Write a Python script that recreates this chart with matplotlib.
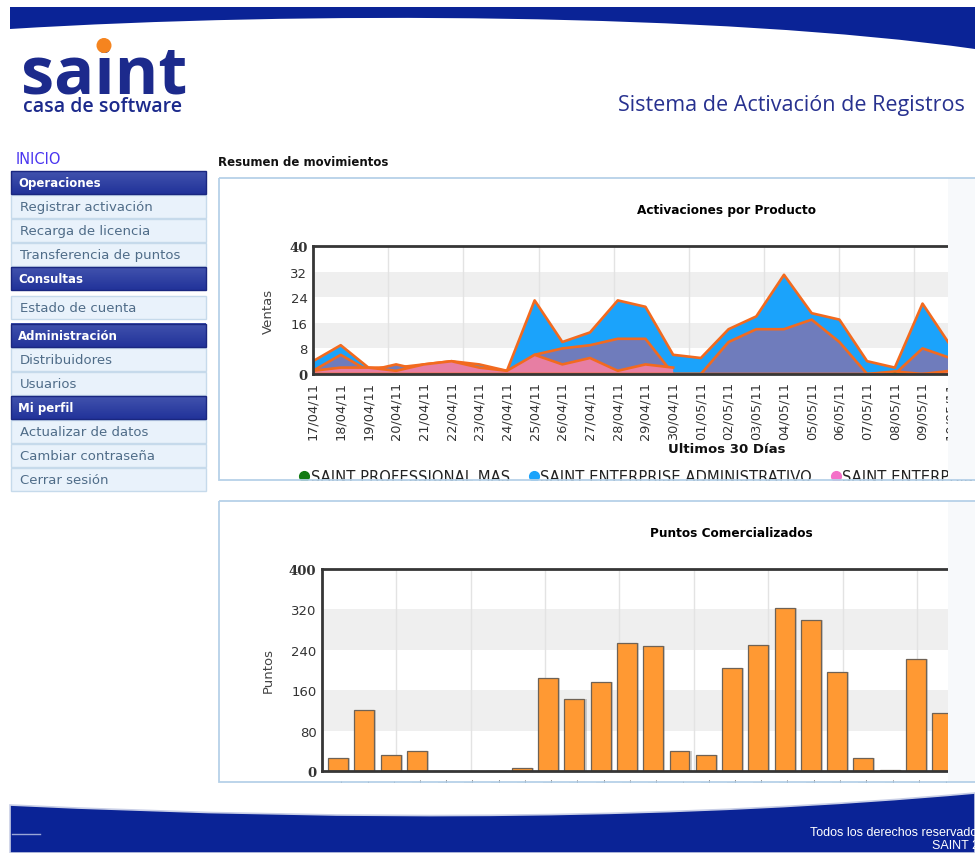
import numpy as np
import matplotlib.pyplot as plt
from matplotlib.patches import Rectangle, PathPatch, Circle
from matplotlib.path import Path
from matplotlib.lines import Line2D
from matplotlib.colors import LinearSegmentedColormap

W, H = 975, 854
NAN = np.nan

DATES = ["17/04/11", "18/04/11", "19/04/11", "20/04/11", "21/04/11", "22/04/11",
         "23/04/11", "24/04/11", "25/04/11", "26/04/11", "27/04/11", "28/04/11",
         "29/04/11", "30/04/11", "01/05/11", "02/05/11", "03/05/11", "04/05/11",
         "05/05/11", "06/05/11", "07/05/11", "08/05/11", "09/05/11", "10/05/11"]

# activaciones por dia, una lista por producto (areas superpuestas)
PROFESSIONAL_MAS = [0, 0, 0, 0, 0, 0, 0, 0, 0, 0, 0, 0,
                    0, 0, 0, 0, 0, 0, 0, 0, 0, 0.8, 0, 0]
ENTERPRISE_ADM = [4, 9, 2, 2, 3, 4, 3, 1, 23, 10, 13, 23,
                  21, 6, 5, 14, 18, 31, 19, 17, 4, 2, 22, 9]
ENTERPRISE_OTRO = [1, 6, 1, 3, 1, 1, 1, 0, 6, 8, 9, 11,
                   11, 0, 0, 10, 14, 14, 17, 10, 0, 0, 8, 5]
ENTERPRISE_CONT = [1, 2, 2, 1, 3, 4, 2, 1, 6, 3, 5, 1,
                   3, 2, NAN, NAN, NAN, NAN, NAN, NAN, NAN, NAN, 0, 1]

# puntos comercializados por dia
PUNTOS = [26, 120, 31, 40, 0, 0, 0, 6, 184, 143, 177, 254,
          248, 40, 31, 203, 250, 323, 300, 197, 26, 2, 221, 114]

LEGEND_LABELS = ["SAINT PROFESSIONAL MAS", "SAINT ENTERPRISE ADMINISTRATIVO",
                 "SAINT ENTERPRISE CONTABILIDAD"]

MENU = [("Operaciones", ["Registrar activación", "Recarga de licencia", "Transferencia de puntos"]),
        ("Consultas", ["Estado de cuenta"]),
        ("Administración", ["Distribuidores", "Usuarios"]),
        ("Mi perfil", ["Actualizar de datos", "Cambiar contraseña", "Cerrar sesión"])]

NAVY = "#1c2a8c"
ORANGE_LINE = "#f26a1f"


def px_rect(left, top, right, bottom):
    return [left / W, 1 - bottom / H, (right - left) / W, (bottom - top) / H]


def style_chart(ax, ymax, ystep, xmax):
    ax.set_xlim(*xmax)
    ax.set_ylim(0, ymax)
    yt = np.arange(0, ymax + 1, ystep)
    for lo in yt[1:-1:2]:
        ax.axhspan(lo, lo + ystep, color="#efefef", lw=0, zorder=0)
    for gx in np.linspace(xmax[0], xmax[1], 12)[1:-1]:
        ax.axvline(gx, color="#e3e3e3", lw=1, zorder=0.5)
    ax.set_yticks(yt, labels=[str(v) for v in yt])
    for lbl in ax.get_yticklabels():
        if lbl.get_text() in (str(yt[0]), str(yt[-1])):
            lbl.set_fontfamily("DejaVu Serif")
            lbl.set_fontweight("bold")
            lbl.set_color("#111111")
    for side in ["top", "left", "bottom"]:
        ax.spines[side].set(color="#363636", lw=2, zorder=10)
    ax.spines["right"].set_visible(False)
    ax.tick_params(axis="both", length=0, colors="#333333", labelsize=9.5)
    ax.tick_params(axis="y", pad=4)


fig = plt.figure(figsize=(W / 100, H / 100), dpi=100)

# ---- page background: header, menu ----
page = fig.add_axes([0, 0, 1, 1], zorder=0)
page.set_xlim(0, W)
page.set_ylim(H, 0)
page.axis("off")

head = Path([(10, 8), (975, 8), (975, 50), (720, 14), (300, 12), (10, 30), (10, 8)],
            [Path.MOVETO, Path.LINETO, Path.LINETO, Path.CURVE4, Path.CURVE4, Path.CURVE4,
             Path.CLOSEPOLY])
page.add_patch(PathPatch(head, facecolor="#0a2396", edgecolor="none"))

page.text(21, 93, "saint", fontsize=48, fontweight="bold", family="Open Sans",
          color=NAVY, va="baseline")
page.add_patch(Circle((104, 46.5), 6.8, color="#f5841f", zorder=5))
page.text(23, 112, "casa de software", fontsize=14, fontweight="semibold",
          family="Open Sans", color=NAVY, va="baseline")
page.text(618, 111, "Sistema de Activación de Registros", fontsize=15.5,
          family="Open Sans", color="#27318f", va="baseline")

page.text(16, 160, "INICIO", fontsize=10.5, color="#4a35f0", va="center")
page.text(218, 163, "Resumen de movimientos", fontsize=8.5, fontweight="bold",
          color="#111111", va="center")

hdr_cmap = LinearSegmentedColormap.from_list("hdr", ["#4152ad", "#22339a"])
y = 172
for title, items in MENU:
    page.imshow(np.linspace(0, 1, 20).reshape(-1, 1), cmap=hdr_cmap, aspect="auto",
                extent=(11, 206, y + 23, y), origin="upper", zorder=1)
    page.add_patch(Rectangle((11, y), 195, 23, fill=False, edgecolor="#1a2780", lw=1, zorder=2))
    page.text(18, y + 12, title, fontsize=8.5, fontweight="bold", color="white",
              va="center", zorder=3)
    y += 24
    if len(items) == 1:
        y += 4.5
    for it in items:
        page.add_patch(Rectangle((11, y), 195, 23, facecolor="#e9f2fb",
                                 edgecolor="#c6daeb", lw=1, zorder=1))
        page.text(20, y + 12, it, fontsize=9.5, color="#4f6c88", va="center", zorder=3)
        y += 24
    if len(items) == 1:
        y += 4.5
page.set_xlim(0, W)
page.set_ylim(H, 0)

# ---- chart 1: Activaciones por Producto ----
ax1 = fig.add_axes(px_rect(313, 247, 1140, 375), zorder=1)
style_chart(ax1, 40, 8, (0, 29.85))
x = np.arange(len(DATES))
layers = [(ENTERPRISE_ADM, "#1ba3fb"), (ENTERPRISE_OTRO, "#6f7cbc"),
          (ENTERPRISE_CONT, "#e77ea3"), (PROFESSIONAL_MAS, "#137a13")]
for z, (vals, col) in enumerate(layers):
    v = np.array(vals, dtype=float)
    ax1.fill_between(x, 0, v, color=col, lw=0, zorder=2 + z)
    ax1.plot(x, v, color=ORANGE_LINE, lw=1.9, zorder=2 + z)
ax1.set_xticks(x, labels=DATES, rotation=90)
ax1.tick_params(axis="x", pad=5, labelsize=9.3)
ax1.set_title("Activaciones por Producto", fontsize=8.7, fontweight="bold", pad=24)
ax1.set_xlabel("Ultimos 30 Días", fontsize=9.5, fontweight="bold", color="#111111")
ax1.xaxis.set_label_coords(0.5, -(443 - 375) / 128)
ax1.set_ylabel("Ventas", fontsize=9.5, color="#444444", va="center")
ax1.yaxis.set_label_coords(-(313 - 268) / 827, 0.5)
handles = [Line2D([], [], marker="o", ls="none", color=c, markersize=7)
           for c in ["#137a13", "#1ba3fb", "#f470c8"]]
ax1.legend(handles, LEGEND_LABELS, loc="center left", ncol=3, frameon=False,
           bbox_to_anchor=(300 / W, 1 - 478 / H), bbox_transform=fig.transFigure,
           fontsize=10.6, handlelength=0.6, handletextpad=0.15, columnspacing=1.3,
           borderpad=0, borderaxespad=0, labelcolor="#222222")

# ---- chart 2: Puntos Comercializados ----
ax2 = fig.add_axes(px_rect(322, 570, 1140, 772), zorder=1)
style_chart(ax2, 400, 80, (-0.61, 30.53))
xb = np.arange(len(PUNTOS))
ax2.bar(xb + 0.08, PUNTOS, width=0.76, color="#9a9a9a", alpha=0.45, lw=0, zorder=2.5)
ax2.bar(xb, PUNTOS, width=0.76, color="#ff9933", edgecolor="#6f6255", lw=0.9, zorder=3)
ax2.set_xticks(xb, labels=DATES, rotation=90)
ax2.tick_params(axis="x", pad=4)
ax2.set_title("Puntos Comercializados", fontsize=8.7, fontweight="bold", pad=24)
ax2.set_ylabel("Puntos", fontsize=9.5, color="#444444", va="center")
ax2.yaxis.set_label_coords(-(322 - 268) / 818, 0.5)

# ---- overlay: panel clipping, borders, footer ----
over = fig.add_axes([0, 0, 1, 1], zorder=5)
over.set_xlim(0, W)
over.set_ylim(H, 0)
over.axis("off")
over.add_patch(Rectangle((947.5, 179), 40, 302, facecolor="#f7f9fb", lw=0))
over.add_patch(Rectangle((947.5, 502), 40, 281, facecolor="#f7f9fb", lw=0))
over.add_patch(Rectangle((216, 481.5), 770, 19.5, facecolor="white", lw=0))
over.add_patch(Rectangle((0, 783.5), W, 80, facecolor="white", lw=0))
for top, bot in [(178.5, 481), (501.5, 783)]:
    over.add_patch(Rectangle((218.5, top), 800, bot - top, fill=False,
                             edgecolor="#b6d1e8", lw=1.3))

foot = Path([(10, 806), (550, 832), (975, 794), (975, 854), (10, 854), (10, 806)],
            [Path.MOVETO, Path.CURVE3, Path.CURVE3, Path.LINETO, Path.LINETO, Path.CLOSEPOLY])
over.add_patch(PathPatch(foot, facecolor="#0a2396", edgecolor="#c9cfe6", lw=1.2))
over.plot([12, 40], [835, 835], color="#9aa6d6", lw=1)
over.text(810, 836, "Todos los derechos reservados", fontsize=9, color="white",
          family=["Liberation Sans Narrow", "Liberation Sans"], va="baseline")
over.text(932, 849, "SAINT 2010", fontsize=9, color="white",
          family=["Liberation Sans Narrow", "Liberation Sans"], va="baseline")

fig.savefig("out.png", dpi=100)
